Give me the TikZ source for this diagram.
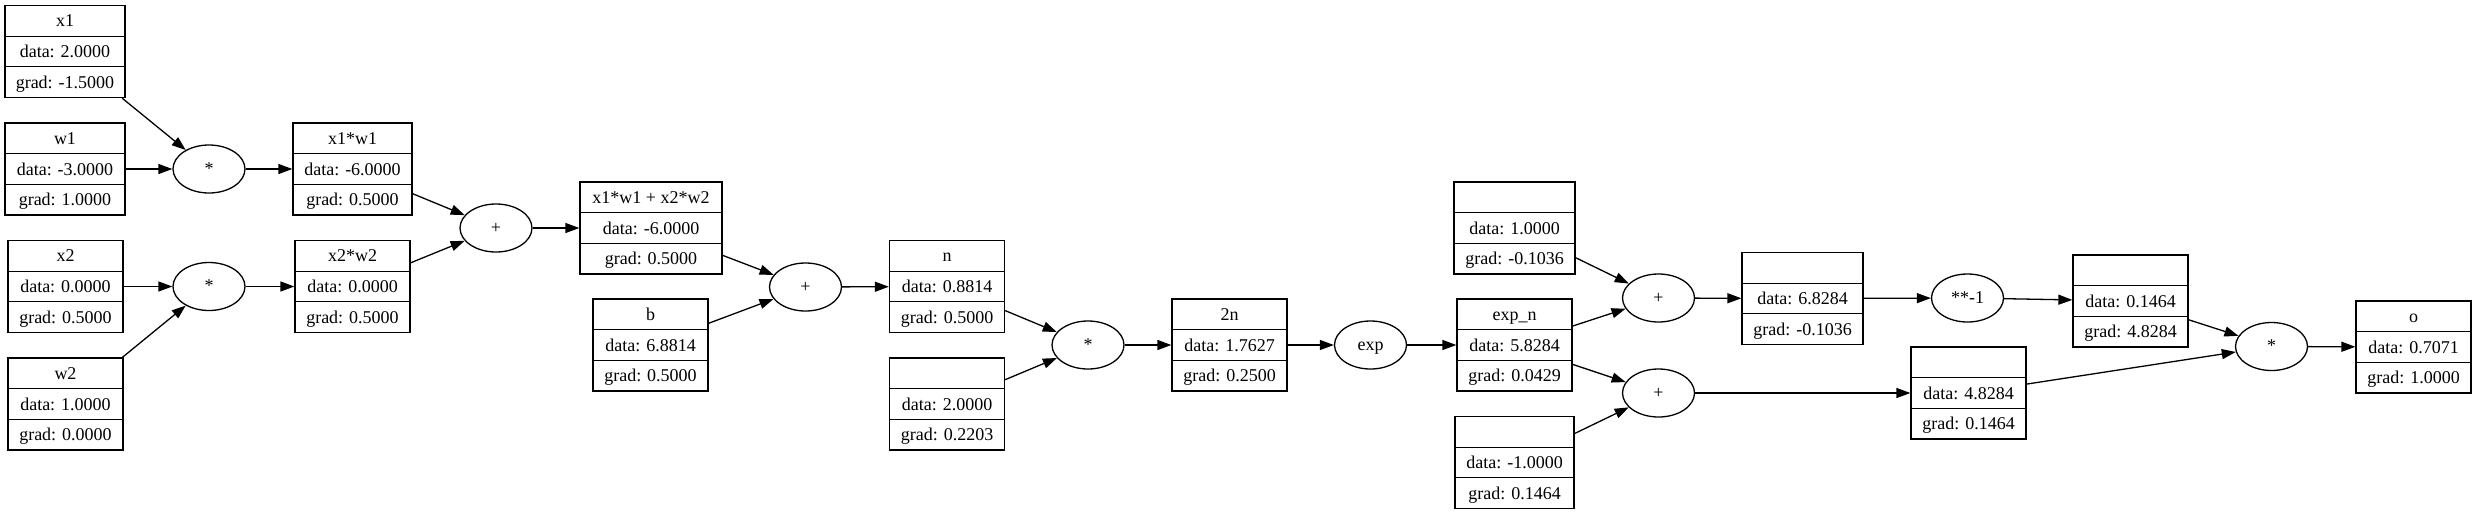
\documentclass[tikz,border=0pt]{standalone}
\usepackage{fontspec}
\setmainfont{Liberation Serif}
\usetikzlibrary{shapes.geometric,arrows.meta}
\tikzset{
  rec/.style={draw, rectangle, line width=1.3pt, minimum height=92pt, inner sep=0pt},
  opnode/.style={draw, ellipse, line width=1.3pt, minimum width=72pt, minimum height=48pt, inner sep=0pt},
  lab/.style={inner sep=0pt, anchor=base, font=\fontsize{18}{20}\selectfont},
  rowline/.style={line width=1.3pt},
  edge/.style={line width=1.3pt, -{Triangle[length=14pt,width=10pt]}},
}
% name, cx, cy, width, label, data, grad
\newcommand\valrec[7]{%
  \node[rec, minimum width=#4pt] (#1) at (#2,#3) {};
  \draw[rowline] ([yshift=15.33pt]#1.west) -- ([yshift=15.33pt]#1.east);
  \draw[rowline] ([yshift=-15.33pt]#1.west) -- ([yshift=-15.33pt]#1.east);
  \node[lab] (#1-l) at ([yshift=24.67pt]#1.center) {#5};
  \node[lab] (#1-d) at ([yshift=-6pt]#1.center) {data: #6};
  \node[lab] (#1-g) at ([yshift=-36.67pt]#1.center) {grad: #7};
}
% name, cx, cy, op
\newcommand\opnd[4]{%
  \node[opnode] (#1) at (#2,#3) {};
  \node[lab] (#1-t) at ([yshift=-5pt]#1.center) {#4};
}
\begin{document}
\begin{tikzpicture}[x=1pt,y=-1pt]
\useasboundingbox (0,0) rectangle (2476,515);
\valrec{x1}{65}{51.5}{120}{x1}{2.0000}{-1.5000}
\valrec{w1}{65}{169}{120}{w1}{-3.0000}{1.0000}
\valrec{x2}{65.5}{286.5}{115}{x2}{0.0000}{0.5000}
\valrec{w2}{65.5}{404}{115}{w2}{1.0000}{0.0000}
\valrec{x1w1}{352.5}{169}{119}{x1*w1}{-6.0000}{0.5000}
\valrec{x2w2}{352.5}{286.5}{115}{x2*w2}{0.0000}{0.5000}
\valrec{sum}{651}{228}{142}{x1*w1 + x2*w2}{-6.0000}{0.5000}
\valrec{b}{650.5}{345}{115}{b}{6.8814}{0.5000}
\valrec{n}{947}{286.5}{115}{n}{0.8814}{0.5000}
\valrec{two}{947}{404}{115}{}{2.0000}{0.2203}
\valrec{tn}{1229.5}{345}{115}{2n}{1.7627}{0.2500}
\valrec{expn}{1514.5}{345}{115}{exp\_n}{5.8284}{0.0429}
\valrec{one}{1514.5}{228}{121}{}{1.0000}{-0.1036}
\valrec{neg}{1514.5}{462.5}{119}{}{-1.0000}{0.1464}
\valrec{den}{1802.5}{298.5}{121}{}{6.8284}{-0.1036}
\valrec{num}{1968.5}{393}{115}{}{4.8284}{0.1464}
\valrec{inv}{2130.5}{301}{115}{}{0.1464}{4.8284}
\valrec{o}{2413.5}{347}{115}{o}{0.7071}{1.0000}

\opnd{m1}{209}{169}{*}
\opnd{m2}{209}{286.5}{*}
\opnd{p1}{496}{228}{+}
\opnd{p2}{805.5}{287}{+}
\opnd{m3}{1088}{345}{*}
\opnd{ex}{1370.5}{345}{exp}
\opnd{p3}{1658.5}{298}{+}
\opnd{p4}{1658.5}{393}{+}
\opnd{pw}{1967.5}{298}{**-1}
\opnd{m4}{2271.5}{346.5}{*}

\draw[edge] (x1) -- (m1);
\draw[edge] (w1) -- (m1);
\draw[edge] (m1) -- (x1w1);
\draw[edge] (x2) -- (m2);
\draw[edge] (w2) -- (m2);
\draw[edge] (m2) -- (x2w2);
\draw[edge] (x1w1) -- (p1);
\draw[edge] (x2w2) -- (p1);
\draw[edge] (p1) -- (sum);
\draw[edge] (sum) -- (p2);
\draw[edge] (b) -- (p2);
\draw[edge] (p2) -- (n);
\draw[edge] (n) -- (m3);
\draw[edge] (two) -- (m3);
\draw[edge] (m3) -- (tn);
\draw[edge] (tn) -- (ex);
\draw[edge] (ex) -- (expn);
\draw[edge] (one) -- (p3);
\draw[edge] (expn) -- (p3);
\draw[edge] (expn) -- (p4);
\draw[edge] (neg) -- (p4);
\draw[edge] (p3) -- (den);
\draw[edge] (p4) -- (num);
\draw[edge] (den) -- (pw);
\draw[edge] (pw) -- (inv);
\draw[edge] (inv) -- (m4);
\draw[edge] (num) -- (m4);
\draw[edge] (m4) -- (o);
\end{tikzpicture}
\end{document}
